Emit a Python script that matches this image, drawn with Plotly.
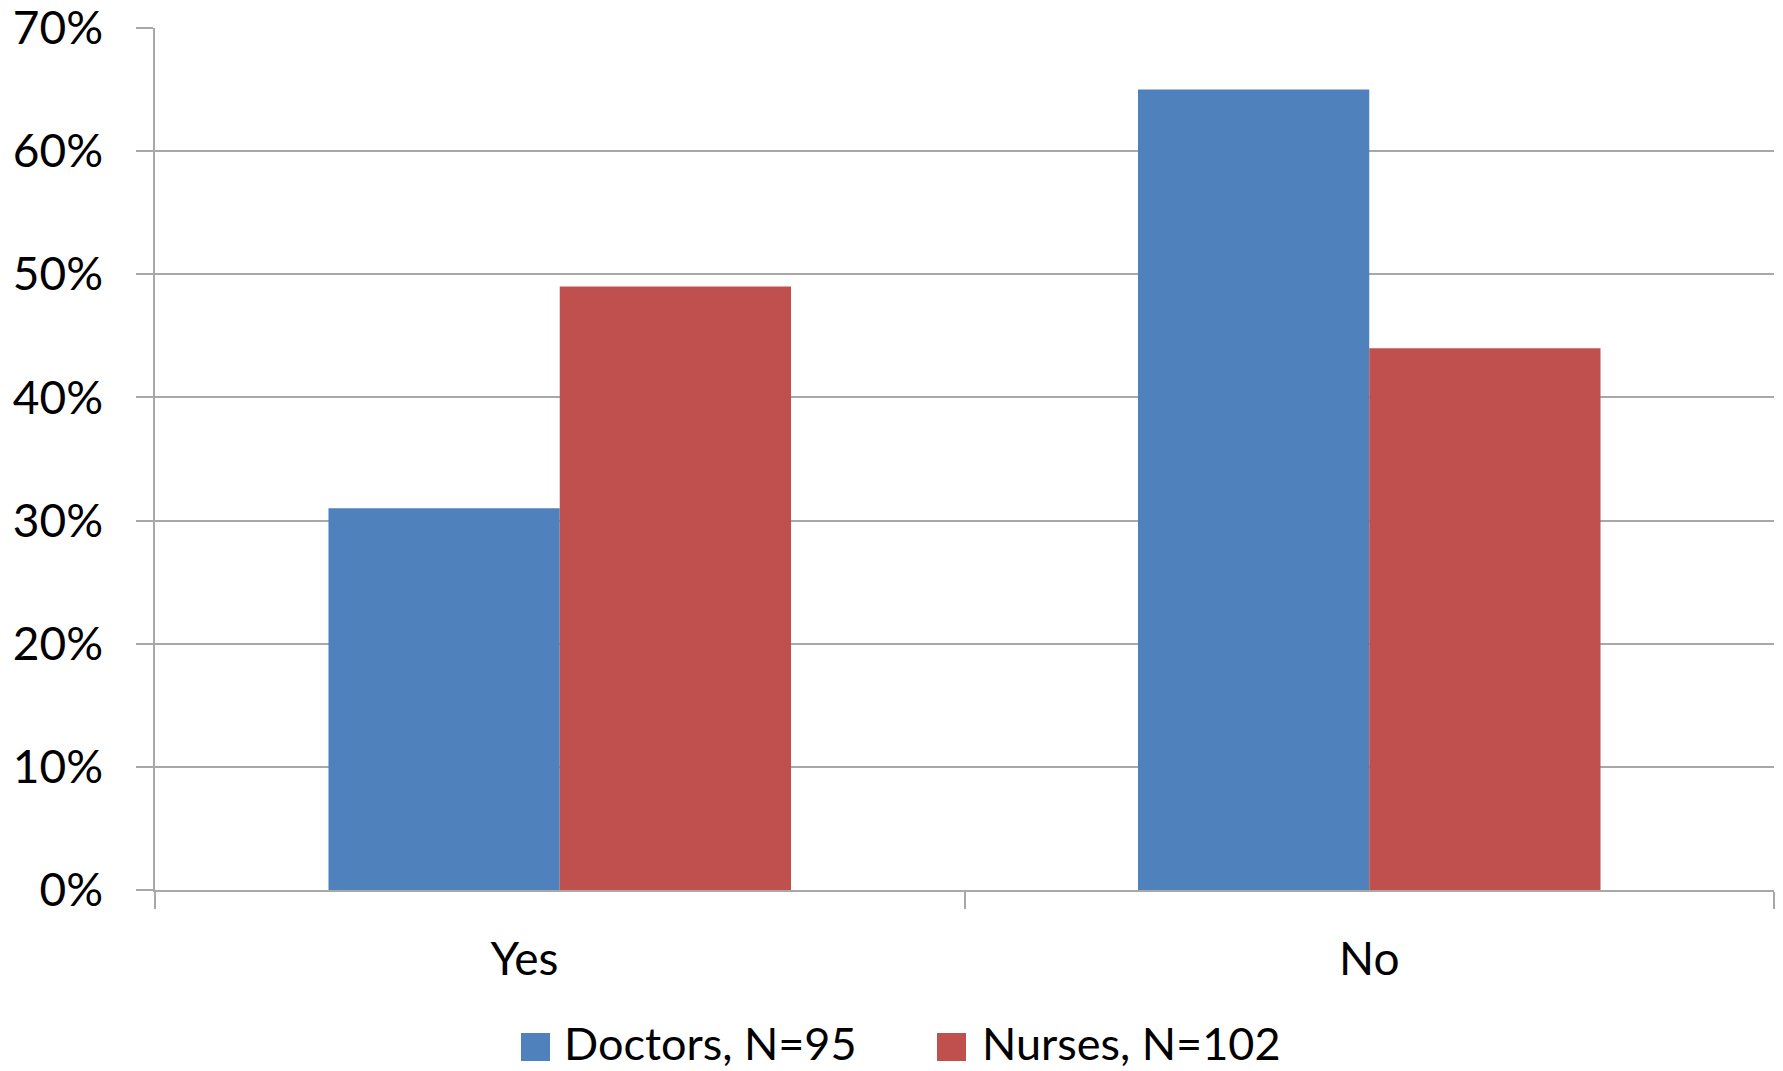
import plotly.graph_objects as go

# Survey responses by profession
categories = ["Yes", "No"]
category_labels = ["Yes" + "\u00a0" * 6, "No"]
doctors = [0.31, 0.65]
nurses = [0.49, 0.44]
series_names = ["Doctors, N=95", "Nurses, N=102"]
series_colors = ["#4F81BD", "#C0504D"]
tick_values = [0, 0.1, 0.2, 0.3, 0.4, 0.5, 0.6, 0.7]
tick_labels = ["0%", "10%", "20%", "30%", "40%", "50%", "60%", "70%"]

FONT = "Lato, 'Open Sans', sans-serif"
GRID = "#A8A8A8"
W, H = 1783, 1071
L, R, T, B = 155, 9, 28, 181

fig = go.Figure()
fig.add_trace(go.Bar(x=categories, y=doctors, name=series_names[0],
                     marker=dict(color=series_colors[0], line=dict(width=0))))
fig.add_trace(go.Bar(x=categories, y=nurses, name=series_names[1],
                     marker=dict(color=series_colors[1], line=dict(width=0))))

fig.update_layout(
    width=W, height=H,
    margin=dict(l=L, r=R, t=T, b=B, autoexpand=False),
    paper_bgcolor="white", plot_bgcolor="white",
    barmode="group", bargap=0.4286, bargroupgap=0,
    font=dict(family=FONT, color="black", size=46),
    showlegend=False,
)

# Legend drawn as swatches + labels below the axis (pixel -> paper coords)
pw, ph = W - L - R, H - T - B


def px_x(p):
    return (p - L) / pw


def px_y(p):
    return (H - B - p) / ph


legend_items = [(521, 563), (937, 981)]
for (sx, tx), name, color in zip(legend_items, series_names, series_colors):
    fig.add_shape(type="rect", xref="paper", yref="paper",
                  x0=px_x(sx), x1=px_x(sx + 29), y0=px_y(1061), y1=px_y(1033),
                  fillcolor=color, line=dict(width=0))
    fig.add_annotation(xref="paper", yref="paper", x=px_x(tx), y=px_y(1043),
                       xanchor="left", yanchor="middle", text=name, borderpad=0,
                       showarrow=False, font=dict(size=45, family=FONT, color="black"))

fig.update_xaxes(
    type="category", tickson="boundaries", ticks="outside", ticklen=17,
    tickcolor=GRID, tickwidth=1.5, showline=True, linecolor=GRID, linewidth=1.5,
    showgrid=False, tickfont=dict(size=46, family=FONT), ticklabelstandoff=28,
    tickvals=categories, ticktext=category_labels, automargin=False,
)
fig.update_yaxes(
    range=[0, 0.7], tickvals=tick_values, ticktext=tick_labels,
    ticks="outside", ticklen=17, tickcolor=GRID, tickwidth=1.5,
    showline=True, linecolor=GRID, linewidth=1.5,
    showgrid=True, gridcolor=GRID, gridwidth=1.5, zeroline=False,
    tickfont=dict(size=46, family=FONT), ticklabelstandoff=24, automargin=False,
    ticklabeloverflow="allow",
)

fig.write_html("out.html")
